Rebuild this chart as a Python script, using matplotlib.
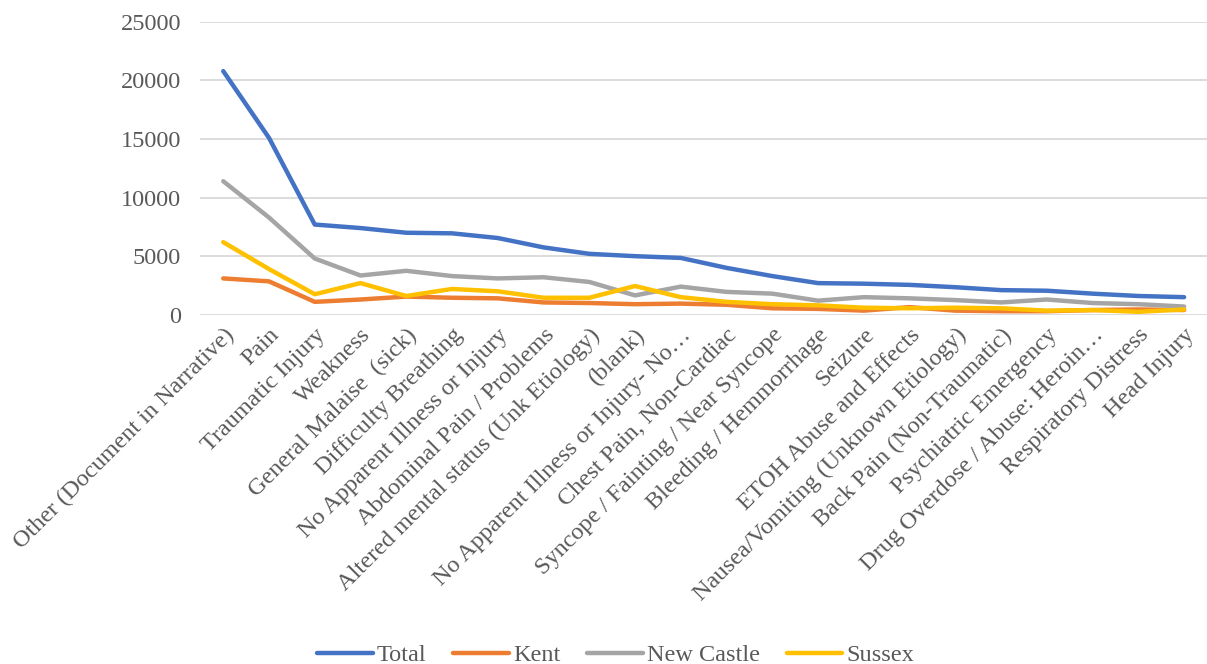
import matplotlib.pyplot as plt

plt.rcParams['font.family'] = ['Liberation Serif', 'DejaVu Serif']

categorias = [
    'Other (Document in Narrative)', 'Pain', 'Traumatic Injury', 'Weakness',
    'General Malaise  (sick)', 'Difficulty Breathing', 'No Apparent Illness or Injury',
    'Abdominal Pain / Problems', 'Altered mental status (Unk Etiology)', '(blank)',
    'No Apparent Illness or Injury- No…', 'Chest Pain, Non-Cardiac',
    'Syncope / Fainting / Near Syncope', 'Bleeding / Hemmorrhage', 'Seizure',
    'ETOH Abuse and Effects', 'Nausea/Vomiting (Unknown Etiology)',
    'Back Pain (Non-Traumatic)', 'Psychiatric Emergency',
    'Drug Overdose / Abuse: Heroin…', 'Respiratory Distress', 'Head Injury',
]

total = [20800, 15100, 7700, 7400, 7000, 6950, 6550, 5750, 5200, 5000, 4850,
         4000, 3300, 2700, 2650, 2550, 2350, 2100, 2050, 1800, 1600, 1500]
kent = [3100, 2850, 1100, 1300, 1550, 1450, 1400, 1050, 1000, 900, 950,
        850, 550, 500, 350, 650, 350, 300, 300, 400, 450, 400]
new_castle = [11400, 8300, 4800, 3350, 3750, 3300, 3100, 3200, 2800, 1650, 2400,
              1950, 1800, 1200, 1500, 1400, 1250, 1050, 1300, 1000, 900, 700]
sussex = [6200, 3900, 1750, 2700, 1600, 2200, 2000, 1450, 1450, 2450, 1500,
          1100, 900, 800, 600, 550, 600, 550, 350, 400, 250, 450]

series = [
    ('Total', total, '#4472C4'),
    ('Kent', kent, '#ED7D31'),
    ('New Castle', new_castle, '#A5A5A5'),
    ('Sussex', sussex, '#FFC000'),
]

fig = plt.figure(figsize=(12.07, 6.64), dpi=100)
ax = fig.add_axes([0.166, 0.526, 0.834, 0.441])

x = list(range(len(categorias)))
for nombre, valores, color in series:
    ax.plot(x, valores, color=color, lw=3.2, label=nombre,
            solid_capstyle='round', solid_joinstyle='round')

ax.set_xlim(-0.5, len(categorias) - 0.5)
ax.set_ylim(0, 25000)
ax.set_yticks(range(0, 25001, 5000))
ax.set_xticks(x)
ax.set_xticklabels(categorias, rotation=45, ha='right', rotation_mode='anchor')

ax.grid(axis='y', color='#d9d9d9', lw=1.3)
ax.set_axisbelow(True)
for s in ax.spines.values():
    s.set_visible(False)
ax.tick_params(length=0, labelsize=17.5, colors='#595959')
ax.tick_params(axis='y', pad=14)
ax.tick_params(axis='x', pad=7)

fig.legend(loc='lower center', ncol=4, frameon=False, fontsize=17.5,
           bbox_to_anchor=(0.51, -0.036), handlelength=2.3, handletextpad=0.16,
           columnspacing=1.1, labelcolor='#595959')

fig.savefig('out.png', dpi=100)
